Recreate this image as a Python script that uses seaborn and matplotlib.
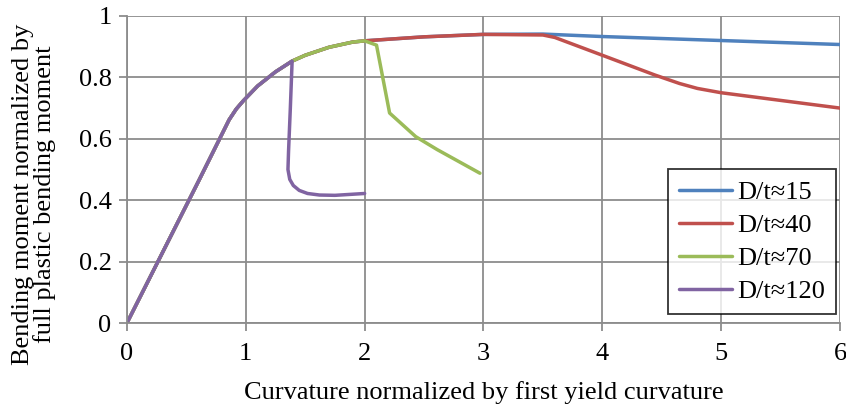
import matplotlib
matplotlib.use("Agg")
import matplotlib.pyplot as plt
import seaborn as sns
import pandas as pd

# Normalized curvature / moment pairs for each pipe slenderness
labels = ["D/t≈15", "D/t≈40", "D/t≈70", "D/t≈120"]
colors = ["#4F81BD", "#C0504D", "#9BBB59", "#8064A2"]

curv_15 = [0, 0.3, 0.6, 0.86, 0.92, 0.98, 1.1, 1.25, 1.39, 1.5, 1.7, 1.9, 2.0, 2.5, 3.0, 3.5, 4.0, 5.0, 6.0]
mom_15 = [0, 0.23, 0.46, 0.662, 0.697, 0.724, 0.772, 0.818, 0.853, 0.872, 0.898, 0.915, 0.919, 0.932, 0.94, 0.941, 0.933, 0.92, 0.907]

curv_40 = [0, 0.3, 0.6, 0.86, 0.92, 0.98, 1.1, 1.25, 1.39, 1.5, 1.7, 1.9, 2.0, 2.5, 3.0, 3.5, 3.6,
           4.0, 4.44, 4.65, 4.8, 5.0, 5.5, 6.0]
mom_40 = [0, 0.23, 0.46, 0.662, 0.697, 0.724, 0.772, 0.818, 0.853, 0.872, 0.898, 0.915, 0.919, 0.932, 0.94, 0.938, 0.93,
          0.872, 0.808, 0.78, 0.764, 0.75, 0.725, 0.70]

curv_70 = [0, 0.3, 0.6, 0.86, 0.92, 0.98, 1.1, 1.25, 1.39, 1.5, 1.7, 1.9, 2.0, 2.1, 2.21, 2.43, 2.61, 2.97]
mom_70 = [0, 0.23, 0.46, 0.662, 0.697, 0.724, 0.772, 0.818, 0.853, 0.872, 0.898, 0.915, 0.919, 0.905, 0.684, 0.607, 0.565, 0.488]

curv_120 = [0, 0.3, 0.6, 0.86, 0.92, 0.98, 1.1, 1.25, 1.39, 1.375, 1.36, 1.355, 1.37, 1.40, 1.45, 1.52, 1.62, 1.75, 2.0]
mom_120 = [0, 0.23, 0.46, 0.662, 0.697, 0.724, 0.772, 0.818, 0.853, 0.70, 0.56, 0.50, 0.468, 0.448, 0.432, 0.422, 0.417, 0.416, 0.422]

x_ticks = [0, 1, 2, 3, 4, 5, 6]
y_ticks = [0, 0.2, 0.4, 0.6, 0.8, 1]
y_tick_labels = ["0", "0.2", "0.4", "0.6", "0.8", "1"]

frames = []
for lab, xs, ys in zip(labels,
                       [curv_15, curv_40, curv_70, curv_120],
                       [mom_15, mom_40, mom_70, mom_120]):
    frames.append(pd.DataFrame({"curv": xs, "moment": ys, "series": lab}))
df = pd.concat(frames, ignore_index=True)

sns.set_theme(style="white")
plt.rcParams["font.family"] = ["Liberation Serif", "DejaVu Serif"]
plt.rcParams["text.color"] = "black"
plt.rcParams["axes.labelcolor"] = "black"

fig = plt.figure(figsize=(8.46, 4.09), dpi=100)
ax = fig.add_axes([0.150, 0.210, 0.843, 0.751])

sns.lineplot(data=df, x="curv", y="moment", hue="series", hue_order=labels,
             palette=colors, sort=False, estimator=None, units="series",
             linewidth=2.5, ax=ax)
for line in ax.get_lines():
    line.set_solid_joinstyle("round")
    line.set_solid_capstyle("round")

ax.set_xlim(0, 6)
ax.set_ylim(0, 1)
ax.set_xticks(x_ticks)
ax.set_xticklabels([str(t) for t in x_ticks])
ax.set_yticks(y_ticks)
ax.set_yticklabels(y_tick_labels)
ax.grid(True, color="#8C8C8C", linewidth=1.3)
for side in ["top", "right"]:
    ax.spines[side].set_visible(False)
for side in ["left", "bottom"]:
    ax.spines[side].set_color("#8C8C8C")
    ax.spines[side].set_linewidth(1.3)
ax.tick_params(axis="both", which="both", length=6, width=1.3, color="#8C8C8C",
               labelsize=19, labelcolor="black", direction="out")
ax.tick_params(axis="x", bottom=True, pad=8)
ax.tick_params(axis="y", left=True, pad=5)

ax.set_xlabel("Curvature normalized by first yield curvature", fontsize=19,
              labelpad=12)
ax.set_ylabel("Bending moment normalized by\nfull plastic bending moment",
              fontsize=19, linespacing=0.92)
ax.yaxis.set_label_coords(-0.10, 0.42)

leg = ax.legend(loc="lower right", bbox_to_anchor=(0.9944, 0.03), fontsize=19,
                frameon=True, fancybox=False, edgecolor="black",
                handlelength=2.0, handletextpad=0.2, borderpad=0.42,
                labelspacing=0.36, borderaxespad=0)
leg.get_frame().set_linewidth(1.3)
for line in leg.get_lines():
    line.set_linewidth(2.5)

fig.savefig("out.png", dpi=100)
